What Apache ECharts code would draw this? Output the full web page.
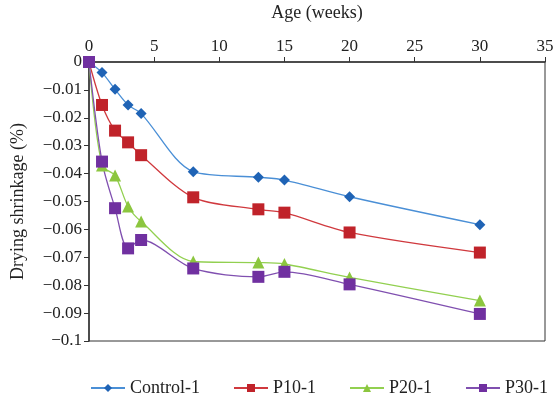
<!DOCTYPE html>
<html>
<head>
<meta charset="utf-8">
<script src="https://cdn.jsdelivr.net/npm/echarts@6/dist/echarts.min.js"></script>
<style>
  html, body { margin: 0; padding: 0; background: #fff; }
  #chart { width: 558px; height: 398px; }
</style>
</head>
<body>
<div id="chart"></div>
<script>
'use strict';

var weeks = [0, 1, 2, 3, 4, 8, 13, 15, 20, 30];
var control1 = [0, -0.0038, -0.0098, -0.0154, -0.0185, -0.0393, -0.0413, -0.0423, -0.0483, -0.0583];
var p10 = [0, -0.0154, -0.0246, -0.0288, -0.0334, -0.0485, -0.0528, -0.0540, -0.0611, -0.0683];
var p20 = [0, -0.0371, -0.0407, -0.0518, -0.0572, -0.0715, -0.0719, -0.0724, -0.0772, -0.0855];
var p30 = [0, -0.0357, -0.0524, -0.0668, -0.0638, -0.0740, -0.0770, -0.0752, -0.0797, -0.0903];

var font = '"Liberation Serif", "DejaVu Serif", serif';

function pairs(ys) {
  return weeks.map(function (x, i) { return [x, ys[i]]; });
}

function makeSeries(name, ys, symbol, size, lineColor, markColor) {
  return {
    name: name,
    type: 'line',
    smooth: 0.3,
    data: pairs(ys),
    symbol: symbol,
    symbolSize: size,
    showAllSymbol: true,
    lineStyle: { color: lineColor, width: 1.3 },
    itemStyle: { color: markColor, borderWidth: 0 }
  };
}

var chart = echarts.init(document.getElementById('chart'));
chart.setOption({
  backgroundColor: '#fff',
  animation: false,
  grid: {
    left: 89, right: 13, top: 62, bottom: 57,
    outerBoundsMode: 'none',
    containLabel: false,
    show: true, borderColor: '#333', borderWidth: 1
  },
  legend: {
    top: 379,
    left: 90,
    padding: 0,
    itemWidth: 34,
    itemHeight: 10,
    itemGap: 33,
    textStyle: { fontFamily: font, fontSize: 18, color: '#222' },
    data: ['Control-1', 'P10-1', 'P20-1', 'P30-1']
  },
  xAxis: {
    type: 'value',
    position: 'top',
    min: 0, max: 35, interval: 5,
    name: 'Age (weeks)',
    nameLocation: 'middle',
    nameGap: 40,
    nameTextStyle: { fontFamily: font, fontSize: 18, color: '#222' },
    axisLine: { show: true, lineStyle: { color: '#333', width: 1.5 } },
    axisTick: { show: true, inside: false, length: 5, lineStyle: { color: '#333' } },
    axisLabel: { fontFamily: font, fontSize: 17, color: '#222', margin: 7 },
    splitLine: { show: false }
  },
  yAxis: {
    type: 'value',
    min: -0.1, max: 0, interval: 0.01,
    name: 'Drying shrinkage (%)',
    nameLocation: 'middle',
    nameGap: 62,
    nameTextStyle: { fontFamily: font, fontSize: 18, color: '#222' },
    axisLine: { show: true, lineStyle: { color: '#333', width: 1.5 } },
    axisTick: { show: true, length: 5, lineStyle: { color: '#333' } },
    axisLabel: {
      fontFamily: font, fontSize: 17, color: '#222', margin: 7,
      formatter: function (v) {
        var s = Math.abs(v) < 1e-9 ? '0' : String(parseFloat(v.toFixed(2)));
        return s.replace('-', '\u2212');
      }
    },
    splitLine: { show: false }
  },
  series: [
    makeSeries('Control-1', control1, 'diamond', 11, '#4a8fd6', '#1f63b5'),
    makeSeries('P10-1', p10, 'rect', 12, '#d0393e', '#c0232a'),
    makeSeries('P20-1', p20, 'triangle', 12, '#92d050', '#8cc63f'),
    makeSeries('P30-1', p30, 'rect', 12, '#8050b0', '#7030a0')
  ]
});
</script>
</body>
</html>
